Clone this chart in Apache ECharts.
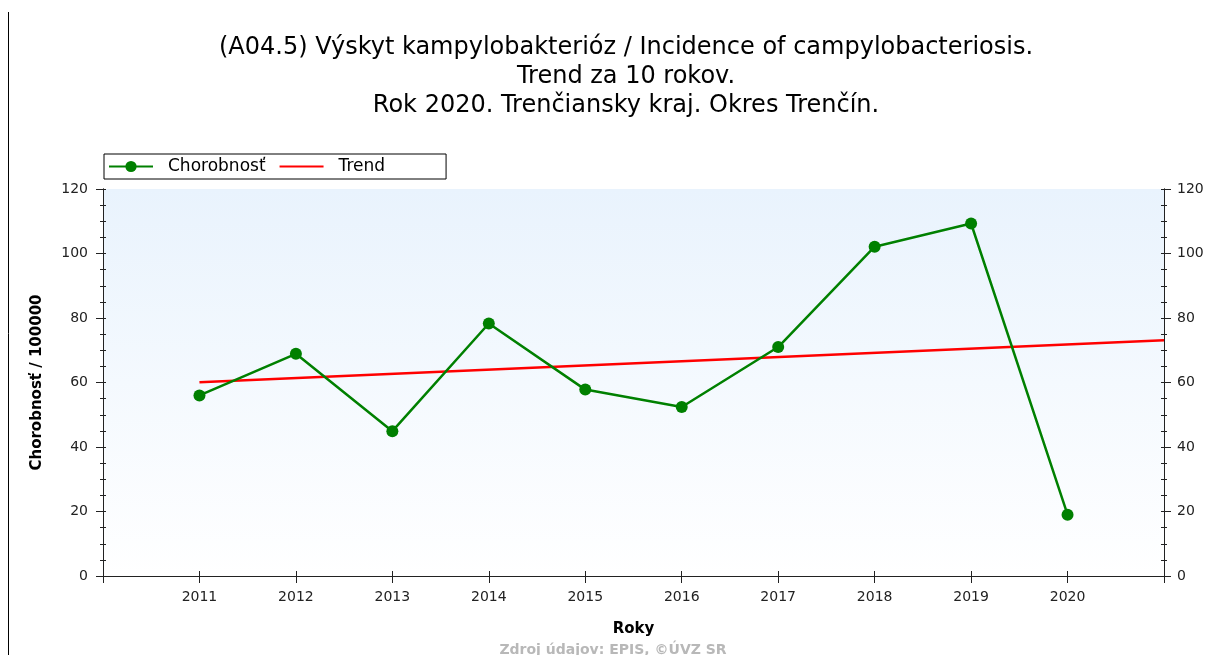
<!DOCTYPE html>
<html>
<head>
<meta charset="utf-8">
<script src="https://cdn.jsdelivr.net/npm/echarts@6/dist/echarts.min.js"></script>
<style>
  html, body { margin: 0; padding: 0; background: #fff; }
  #chart { width: 1226px; height: 655px; }
</style>
</head>
<body>
<div id="chart"></div>
<script>
// values
const years = [2011, 2012, 2013, 2014, 2015, 2016, 2017, 2018, 2019, 2020]
const incidence = [56.0, 68.9, 44.9, 78.3, 57.8, 52.4, 71.0, 102.1, 109.3, 19.0]
const trendYears = [2011, 2021]
const trendValues = [60.1, 73.1]

const titleText = '(A04.5) Výskyt kampylobakterióz / Incidence of campylobacteriosis.\nTrend za 10 rokov.\nRok 2020. Trenčiansky kraj. Okres Trenčín.'

const font = '"DejaVu Sans", Verdana, sans-serif'
const axisColor = '#222'

const chart = echarts.init(document.getElementById('chart'))

const yBase = {
  type: 'value', min: 0, max: 120, interval: 20,
  splitLine: { show: false },
  axisLine: { show: true, lineStyle: { color: axisColor, width: 1 } },
  minorTick: { show: true, splitNumber: 4, length: 3, lineStyle: { color: axisColor } },
}
const xBase = {
  type: 'value', min: 2010, max: 2021, interval: 1,
  splitLine: { show: false },
  axisLine: { show: true, lineStyle: { color: axisColor, width: 1 } },
}

chart.setOption({
  animation: false,
  textStyle: { fontFamily: font },
  title: {
    text: titleText,
    left: 621, top: 28, textAlign: 'center',
    textStyle: { fontFamily: font, fontSize: 24, fontWeight: 'normal', color: '#000', lineHeight: 29 }
  },
  legend: {
    left: 104, top: 154,
    orient: 'horizontal',
    borderColor: '#000', borderWidth: 1, borderRadius: 0,
    padding: [4, 61, 4, 4],
    itemWidth: 44, itemHeight: 14, itemGap: 13,
    textStyle: { fontFamily: font, fontSize: 17, color: '#000', padding: [0, 0, 0, 10] },
    data: [
      { name: 'Chorobnosť' },
      { name: 'Trend', itemStyle: { opacity: 0 } }
    ]
  },
  grid: {
    left: 103, right: 62, top: 189, bottom: 79,
    show: true,
    borderWidth: 0,
    backgroundColor: new echarts.graphic.LinearGradient(0, 0, 0, 1, [
      { offset: 0, color: '#e9f3fd' },
      { offset: 1, color: '#ffffff' }
    ])
  },
  xAxis: [
    Object.assign({}, xBase, {
      position: 'bottom',
      name: 'Roky', nameLocation: 'middle', nameGap: 46,
      nameTextStyle: { fontFamily: font, fontSize: 15, fontWeight: 'bold', color: '#000' },
      axisTick: { show: true, inside: false, length: 6, lineStyle: { color: axisColor } },
      axisLabel: {
        fontFamily: font, fontSize: 14, color: axisColor, margin: 14,
        formatter: v => (years.indexOf(v) >= 0 ? String(v) : '')
      }
    }),
    Object.assign({}, xBase, {
      position: 'bottom',
      axisTick: { show: true, inside: true, length: 5, lineStyle: { color: axisColor } },
      axisLabel: { show: false }
    }),
    Object.assign({}, xBase, {
      position: 'top',
      axisTick: { show: true, inside: true, length: 7, lineStyle: { color: axisColor } },
      axisLabel: { show: false }
    })
  ],
  yAxis: [
    Object.assign({}, yBase, {
      position: 'left',
      name: 'Chorobnosť / 100000', nameLocation: 'middle', nameGap: 58,
      nameTextStyle: { fontFamily: font, fontSize: 15, fontWeight: 'bold', color: '#000' },
      axisTick: { show: true, inside: false, length: 7, lineStyle: { color: axisColor } },
      axisLabel: { fontFamily: font, fontSize: 14, color: axisColor, margin: 15 }
    }),
    Object.assign({}, yBase, {
      position: 'left',
      axisTick: { show: true, inside: true, length: 3, lineStyle: { color: axisColor } },
      axisLabel: { show: false }
    }),
    Object.assign({}, yBase, {
      position: 'right',
      axisTick: { show: true, inside: false, length: 7, lineStyle: { color: axisColor } },
      axisLabel: { fontFamily: font, fontSize: 14, color: axisColor, margin: 13 }
    }),
    Object.assign({}, yBase, {
      position: 'right',
      axisTick: { show: true, inside: true, length: 3, lineStyle: { color: axisColor } },
      axisLabel: { show: false }
    })
  ],
  series: [
    {
      name: 'Chorobnosť',
      type: 'line',
      xAxisIndex: 0, yAxisIndex: 0,
      data: years.map((y, i) => [y, incidence[i]]),
      symbol: 'circle', symbolSize: 12,
      lineStyle: { color: '#008000', width: 2.5 },
      itemStyle: { color: '#008000' },
      z: 3
    },
    {
      name: 'Trend',
      type: 'line',
      xAxisIndex: 0, yAxisIndex: 0,
      data: trendYears.map((y, i) => [y, trendValues[i]]),
      symbol: 'none',
      lineStyle: { color: '#ff0000', width: 2.5 },
      itemStyle: { color: '#ff0000' },
      z: 2
    }
  ],
  graphic: [
    {
      type: 'line',
      shape: { x1: 8.5, y1: 12, x2: 8.5, y2: 655 },
      style: { stroke: '#000', lineWidth: 1 }
    },
    {
      type: 'text',
      left: 'center', top: 643,
      style: {
        text: 'Zdroj údajov: EPIS, ©ÚVZ SR',
        fontFamily: font, fontSize: 14, fontWeight: 'bold', fill: '#b8b8b8'
      }
    }
  ]
})
</script>
</body>
</html>
